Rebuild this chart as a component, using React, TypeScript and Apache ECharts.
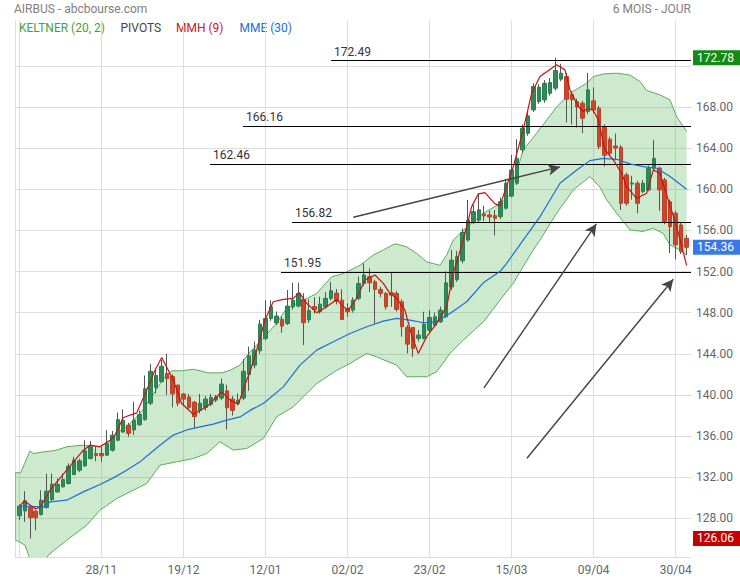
import React, { useEffect, useRef } from 'react';
import * as echarts from 'echarts';

// ---- data ----
const tickIndex = [15, 30, 45, 60, 75, 90, 105, 120];
const tickLabels = ['28/11', '19/12', '12/01', '02/02', '23/02', '15/03', '09/04', '30/04'];
const yGridValues = [128, 132, 136, 140, 144, 148, 152, 156, 160, 164, 168, 172];
const yLabelValues = [128, 132, 136, 140, 144, 148, 152, 156, 160, 164, 168];

// [open, close, low, high], one per trading day
const candles = [
  [128.25, 129.19, 127.83, 129.38], [128.73, 129.71, 127.66, 130.65], [129.06, 128.08, 126.06, 129.19],
  [128.7, 128.08, 126.85, 128.86], [128.38, 129.77, 128.28, 130.74], [129.06, 130.65, 128.96, 132.36],
  [129.84, 131.33, 129.7, 132.36], [130.58, 131.3, 130.48, 131.88], [131.07, 131.78, 131.0, 132.36],
  [131.39, 133.08, 131.3, 133.34], [132.27, 133.66, 132.2, 133.99], [132.69, 133.6, 132.5, 133.8],
  [133.11, 134.57, 133.0, 135.6], [133.82, 134.96, 133.73, 135.54], [134.31, 134.12, 133.56, 134.96],
  [134.31, 134.08, 133.5, 134.96], [134.15, 135.28, 134.05, 136.58], [134.63, 136.09, 134.5, 136.5],
  [135.6, 137.6, 135.5, 138.3], [136.4, 137.55, 136.3, 138.6], [137.07, 136.26, 135.93, 137.3],
  [136.6, 137.55, 136.1, 139.3], [137.1, 138.1, 137.0, 138.5], [137.6, 140.6, 137.5, 141.9],
  [139.2, 142.3, 139.0, 143.0], [140.7, 141.9, 140.15, 142.4], [141.3, 142.8, 141.2, 143.4],
  [142.1, 141.6, 140.0, 144.0], [141.8, 140.1, 138.8, 142.0], [140.96, 139.2, 138.9, 141.0],
  [140.1, 139.6, 138.9, 140.2], [139.8, 138.8, 138.6, 140.1], [139.3, 137.9, 136.8, 139.4],
  [138.5, 139.2, 138.2, 140.1], [138.8, 139.6, 138.5, 139.9], [139.1, 139.76, 138.9, 140.1],
  [139.5, 139.8, 139.3, 140.0], [139.7, 141.05, 139.5, 141.6], [140.4, 138.75, 136.65, 141.0],
  [139.6, 138.5, 138.0, 139.9], [139.2, 139.5, 139.0, 140.15], [139.7, 142.3, 139.5, 143.5],
  [142.0, 143.8, 140.4, 144.7], [142.9, 144.36, 142.6, 145.2], [144.3, 146.9, 144.0, 147.3],
  [145.5, 147.44, 145.3, 149.2], [147.44, 148.57, 147.2, 149.2], [147.0, 147.67, 146.8, 148.1],
  [147.34, 146.7, 146.05, 147.6], [146.95, 148.64, 146.8, 150.2], [148.57, 149.22, 148.3, 150.9],
  [148.64, 149.87, 148.5, 150.91], [149.29, 147.02, 144.85, 149.9], [147.3, 148.2, 147.0, 149.3],
  [148.6, 148.3, 147.9, 149.5], [148.09, 148.83, 147.9, 149.55], [148.57, 149.39, 148.4, 150.0],
  [149.39, 150.13, 149.2, 151.0], [149.9, 149.1, 148.8, 150.3], [149.22, 147.34, 147.28, 150.26],
  [148.41, 148.09, 147.6, 148.9], [148.25, 149.22, 148.0, 149.5], [149.39, 150.84, 149.2, 151.5],
  [150.84, 151.66, 150.6, 152.79], [151.5, 150.9, 150.0, 152.3], [151.0, 150.26, 146.95, 151.2],
  [150.26, 149.87, 149.5, 150.5], [149.87, 148.57, 148.3, 150.0], [149.94, 149.71, 148.57, 151.88],
  [149.87, 148.31, 148.1, 150.1], [149.06, 146.63, 145.66, 149.3], [146.56, 144.94, 144.04, 146.8],
  [146.56, 144.52, 143.71, 146.6], [145.5, 145.82, 145.2, 146.3], [145.5, 146.89, 145.4, 148.09],
  [146.3, 147.54, 146.1, 148.25], [146.79, 147.6, 146.6, 148.0], [147.12, 148.25, 147.0, 148.6],
  [147.6, 150.9, 147.5, 152.0], [150.5, 153.1, 150.2, 154.1], [151.2, 153.44, 151.0, 154.0],
  [153.05, 155.8, 152.8, 156.2], [155.06, 157.0, 154.9, 158.96], [156.85, 157.82, 156.6, 158.5],
  [157.0, 158.0, 156.8, 159.6], [157.6, 157.4, 156.9, 158.4], [157.5, 157.3, 156.7, 157.9],
  [157.43, 157.17, 155.5, 157.98], [157.33, 158.79, 157.1, 159.2], [158.15, 160.58, 158.0, 161.0],
  [159.34, 161.87, 159.2, 163.33], [160.58, 163.0, 160.4, 164.86], [163.82, 165.93, 163.5, 166.3],
  [165.44, 167.13, 165.2, 167.5], [167.71, 169.98, 167.5, 170.3], [168.52, 169.92, 168.3, 170.2],
  [168.68, 170.3, 168.4, 170.6], [169.33, 170.37, 169.1, 170.8], [169.82, 171.54, 169.6, 172.78],
  [170.7, 171.28, 170.5, 172.2], [170.95, 168.75, 166.5, 171.3], [169.2, 168.7, 166.3, 169.5],
  [168.52, 168.0, 166.0, 168.8], [168.36, 166.9, 165.44, 168.6], [167.55, 169.66, 167.3, 171.3],
  [168.59, 167.71, 167.4, 169.9], [167.87, 164.14, 163.9, 168.1], [166.0, 163.3, 162.2, 166.3],
  [164.86, 163.5, 163.2, 165.1], [164.2, 164.0, 162.8, 165.4], [164.08, 158.63, 157.98, 164.3],
  [161.39, 158.63, 158.4, 161.6], [160.5, 160.6, 159.0, 161.3], [160.58, 158.63, 157.66, 160.8],
  [159.77, 160.58, 159.6, 160.9], [159.93, 162.04, 159.8, 162.3], [162.04, 163.0, 161.8, 164.8],
  [162.04, 159.93, 157.9, 162.2], [160.9, 156.85, 156.6, 161.1], [158.79, 156.36, 153.8, 159.0],
  [157.66, 154.6, 153.2, 157.9], [156.53, 153.93, 153.7, 156.8], [155.23, 154.36, 153.6, 155.55],
];

// indicator traces [day index, value]
const keltnerUpper = [
  [-0.79, 132.44], [0.25, 132.44], [1.95, 134.57], [2.56, 134.3], [4.38, 134.47], [6.52, 134.6],
  [8.66, 134.96], [11.09, 135.1], [12.92, 135.1], [14.75, 134.96], [16.58, 135.6], [18.04, 136.4],
  [19.63, 136.9], [22.06, 138.2], [24.2, 139.8], [26.32, 141.6], [27.86, 142.35], [29.69, 142.35],
  [31.81, 142.5], [33.03, 142.35], [34.55, 142.15], [37.0, 142.15], [38.52, 142.4], [40.34, 142.9],
  [42.17, 144.2], [44.0, 145.17], [46.74, 146.79], [48.88, 148.4], [51.92, 149.2], [54.37, 149.87],
  [57.11, 151.5], [59.23, 151.8], [62.28, 152.6], [64.71, 153.6], [66.54, 154.1], [68.68, 154.7],
  [70.82, 154.4], [72.65, 153.76], [74.47, 152.95], [76.9, 152.6], [78.13, 153.6], [79.34, 155.06],
  [81.79, 156.3], [84.82, 157.66], [87.87, 158.6], [89.7, 159.5], [92.13, 163.82], [94.58, 165.44],
  [98.24, 168.0], [100.67, 169.33], [103.72, 170.3], [104.93, 170.95], [106.76, 171.2], [109.21, 171.28],
  [111.64, 171.1], [113.47, 170.47], [114.69, 169.6], [117.13, 169.17], [118.96, 168.68], [120.18, 167.06],
  [122.0, 165.6],
];
const keltnerLower = [
  [-0.79, 125.94], [1.04, 125.4], [1.77, 124.3], [2.87, 123.8], [4.69, 124.0], [5.61, 124.58],
  [8.66, 125.88], [12.32, 127.34], [14.75, 128.8], [17.8, 129.93], [20.84, 130.74], [23.29, 131.39],
  [25.72, 133.18], [28.77, 133.5], [31.81, 133.82], [34.26, 134.31], [36.69, 135.45], [39.12, 134.64],
  [41.57, 134.8], [44.6, 135.77], [47.05, 137.87], [50.09, 138.85], [54.37, 141.1], [58.02, 142.4],
  [60.46, 143.06], [63.51, 144.04], [65.33, 143.7], [68.99, 142.9], [70.82, 141.77], [74.47, 141.77],
  [76.3, 142.25], [78.73, 144.04], [81.17, 145.33], [84.82, 147.1], [86.05, 147.93], [87.87, 149.22],
  [90.3, 150.85], [92.13, 152.5], [93.96, 154.09], [95.19, 155.06], [98.24, 157.66], [101.28, 159.93],
  [104.33, 161.23], [106.16, 160.2], [107.39, 158.96], [109.21, 157.66], [111.64, 156.04], [114.07, 155.9],
  [115.9, 156.2], [117.73, 155.7], [118.96, 154.58], [120.79, 154.1], [122.0, 153.6],
];
const mme30 = [
  [0, 129.19], [4.38, 129.12], [5.61, 129.6], [8.66, 129.77], [11.7, 130.58], [14.75, 131.3],
  [17.18, 131.94], [19.63, 132.69], [22.06, 133.5], [23.89, 134.31], [25.72, 135.12], [28.15, 136.1],
  [30.6, 136.6], [33.03, 136.9], [35.46, 137.16], [37.91, 137.55], [40.34, 137.87], [42.17, 138.5],
  [44.6, 139.17], [48.26, 140.79], [51.31, 142.9], [54.37, 144.36], [57.4, 145.17], [60.46, 145.98],
  [63.51, 146.63], [66.54, 147.18], [68.99, 147.44], [71.42, 147.28], [73.86, 147.02], [76.3, 147.12],
  [78.73, 147.93], [81.79, 149.06], [84.82, 150.9], [87.87, 152.0], [89.1, 152.8], [92.13, 155.06],
  [95.19, 157.33], [98.85, 160.58], [101.9, 161.87], [104.33, 162.78], [106.76, 163.0], [109.21, 162.91],
  [111.64, 162.46], [114.07, 162.2], [116.52, 162.04], [118.96, 161.23], [122.0, 160.0],
];
const mmh9 = [
  [0.12, 129.19], [0.86, 129.71], [2.87, 128.96], [3.78, 129.06], [5.61, 130.74], [8.66, 132.69],
  [11.7, 134.63], [12.92, 135.12], [14.75, 134.96], [16.58, 135.6], [17.49, 136.1], [19.01, 137.81],
  [21.46, 138.26], [23.29, 140.47], [24.8, 142.41], [26.03, 143.65], [27.24, 142.41], [28.15, 141.44],
  [29.69, 139.17], [31.81, 138.13], [34.26, 138.85], [37.0, 140.31], [38.52, 139.5], [40.03, 139.1],
  [41.57, 141.44], [42.17, 142.25], [43.4, 144.36], [44.91, 147.28], [46.43, 149.06], [48.26, 149.29],
  [50.09, 149.39], [51.19, 149.94], [52.54, 148.9], [54.37, 148.0], [56.19, 148.57], [58.02, 149.29],
  [59.23, 148.57], [60.14, 148.25], [61.68, 149.39], [63.2, 151.17], [65.02, 151.66], [66.54, 150.84],
  [67.76, 149.87], [68.99, 149.39], [70.5, 148.25], [71.73, 145.82], [72.94, 144.04], [74.47, 145.66],
  [76.3, 146.95], [78.13, 148.57], [79.34, 151.82], [81.17, 155.06], [82.7, 158.31], [83.91, 159.54],
  [85.13, 159.67], [86.96, 158.57], [87.87, 158.4], [90.3, 162.2], [92.13, 165.77], [93.67, 169.33],
  [95.19, 170.95], [98.24, 172.09], [99.76, 171.6], [100.67, 169.66], [102.19, 168.04], [103.1, 167.55],
  [104.02, 167.87], [104.93, 167.65], [105.85, 166.74], [107.07, 163.82], [108.59, 162.85], [110.12, 161.55],
  [111.03, 160.25], [112.86, 159.12], [114.69, 159.6], [115.9, 161.88], [117.13, 161.55], [118.64, 158.96],
  [120.18, 156.36], [122.0, 152.6],
];

const pivotValues = [172.49, 166.16, 162.46, 156.82, 151.95];
const pivotStart = [57, 40.9, 34.86, 49.85, 47.84];

const arrowFrom = [[61.06, 157.27], [84.95, 140.68], [92.81, 133.85]];
const arrowTo = [[98.85, 162.17], [105.5, 156.63], [119.56, 151.25]];

const periodHigh = 172.78;
const periodLow = 126.06;
const lastClose = 154.36;

const X_MIN = -0.79;
const X_MAX = 122.8;
const Y_MIN = 124.25;
const Y_MAX = 176.4;

export default function App() {
  const ref = useRef<HTMLDivElement>(null);

  useEffect(() => {
    if (!ref.current) return;
    const chart = echarts.init(ref.current, null, { renderer: 'svg' });
    const font = 'Roboto, "Noto Sans", sans-serif';
    const gridColor = '#dddddd';

    const wickData = candles.map((c, i) => [i, c[0], c[1], c[2], c[3]]);
    const bodyData = candles.map((c, i) => [i, c[0], c[1], Math.min(c[0], c[1]), Math.max(c[0], c[1])]);

    const pivotLines = pivotValues.map((v, k) => [
      {
        coord: [pivotStart[k], v],
        label: {
          show: true,
          position: 'insideStartTop',
          formatter: v.toFixed(2),
          color: '#333',
          fontSize: 12,
          fontFamily: font,
          distance: 3,
        },
      },
      { coord: [X_MAX, v] },
    ]);

    const arrowLines = arrowFrom.map((p, k) => [
      {
        coord: p,
        symbol: 'none',
        lineStyle: { color: '#444', width: 1.4, type: 'solid' },
        label: { show: false },
      },
      { coord: arrowTo[k], symbol: 'arrow', symbolSize: [9, 12] },
    ]);

    const valueBox = (v: number, bg: string) => ({
      yAxis: v,
      lineStyle: { color: 'rgba(0,0,0,0)', width: 0 },
      label: {
        show: true,
        position: 'end',
        distance: 2,
        opacity: 1,
        formatter: v.toFixed(2),
        color: '#fff',
        backgroundColor: bg,
        padding: [2, 8, 1, 4],
        fontSize: 12,
        fontFamily: font,
      },
    });

    const option: any = {
      animation: false,
      grid: { left: 15, right: 49, top: 20.5, bottom: 23, containLabel: false },
      graphic: [
        { type: 'text', left: 14, top: 3, style: { text: 'AIRBUS - abcbourse.com', fill: '#808080', font: `12px ${font}` } },
        { type: 'text', right: 49, top: 3, style: { text: '6 MOIS - JOUR', fill: '#808080', font: `12px ${font}` } },
        { type: 'text', left: 19, top: 22, style: { text: 'KELTNER (20, 2)', fill: '#3da33d', font: `12px ${font}` } },
        { type: 'text', left: 120.5, top: 22, style: { text: 'PIVOTS', fill: '#444', font: `12px ${font}` } },
        { type: 'text', left: 176, top: 22, style: { text: 'MMH (9)', fill: '#c62020', font: `12px ${font}` } },
        { type: 'text', left: 239.5, top: 22, style: { text: 'MME (30)', fill: '#1e6fd0', font: `12px ${font}` } },
      ],
      xAxis: {
        type: 'value',
        min: X_MIN,
        max: X_MAX,
        axisLine: { show: true, lineStyle: { color: gridColor } },
        axisTick: { show: false, customValues: tickIndex },
        splitLine: { show: true, lineStyle: { color: gridColor, width: 1 } },
        axisLabel: {
          customValues: tickIndex,
          margin: 7,
          color: '#666',
          fontSize: 12,
          fontFamily: font,
          formatter: (v: number) => {
            const k = tickIndex.indexOf(Math.round(v));
            return k >= 0 ? tickLabels[k] : '';
          },
        },
      },
      yAxis: [
        {
          type: 'value',
          position: 'right',
          min: Y_MIN,
          max: Y_MAX,
          axisLine: { show: true, lineStyle: { color: gridColor } },
          axisTick: { show: false, customValues: yGridValues },
          splitLine: { show: true, lineStyle: { color: gridColor, width: 1 } },
          axisLabel: {
            customValues: yLabelValues,
            margin: 5,
            padding: [0, 0, 4, 0],
            color: '#666',
            fontSize: 12,
            fontFamily: font,
            formatter: (v: number) => v.toFixed(2),
          },
        },
        {
          type: 'value',
          position: 'left',
          min: Y_MIN,
          max: Y_MAX,
          axisLine: { show: true, lineStyle: { color: gridColor } },
          axisTick: { show: false },
          splitLine: { show: false },
          axisLabel: { show: false },
        },
      ],
      series: [
        {
          type: 'custom',
          name: 'KELTNER (20, 2)',
          clip: true,
          z: 1,
          silent: true,
          data: [[0, 150]],
          encode: { x: 0, y: 1 },
          renderItem: (params: any, api: any) => {
            if (params.dataIndex !== 0) return null;
            const up = keltnerUpper.map((p) => api.coord(p));
            const lo = keltnerLower.map((p) => api.coord(p));
            const edge = up.slice().reverse().concat(lo);
            return {
              type: 'group',
              children: [
                {
                  type: 'polygon',
                  shape: { points: up.concat(lo.slice().reverse()) },
                  style: { fill: 'rgba(76,175,80,0.28)', stroke: null },
                },
                {
                  type: 'polyline',
                  shape: { points: edge },
                  style: { stroke: '#5aad5a', lineWidth: 1, fill: null },
                },
              ],
            };
          },
        },
        {
          type: 'candlestick',
          name: 'wick',
          z: 3,
          barWidth: 1,
          silent: true,
          encode: { x: 0, y: [1, 2, 3, 4] },
          data: wickData,
          itemStyle: { color: '#555', color0: '#555', borderColor: '#555', borderColor0: '#555', borderWidth: 1 },
        },
        {
          type: 'candlestick',
          name: 'body',
          z: 4,
          barWidth: 4,
          silent: true,
          encode: { x: 0, y: [1, 2, 3, 4] },
          data: bodyData,
          itemStyle: {
            color: '#2e8b57',
            color0: '#c9482b',
            borderColor: '#2a7f50',
            borderColor0: '#bf4228',
            borderColorDoji: '#bf4228',
            borderWidth: 1,
          },
        },
        {
          type: 'line',
          name: 'MME (30)',
          z: 5,
          clip: false,
          showSymbol: false,
          silent: true,
          data: mme30,
          lineStyle: { color: '#1e6fd0', width: 1.2 },
          markLine: {
            silent: true,
            symbol: 'none',
            animation: false,
            data: [
              valueBox(periodHigh, '#138a13'),
              valueBox(lastClose, '#3b78e7'),
              valueBox(periodLow, '#c40000'),
            ],
          },
        },
        {
          type: 'line',
          name: 'MMH (9)',
          z: 6,
          showSymbol: false,
          silent: true,
          data: mmh9,
          lineStyle: { color: '#cc1111', width: 1.2 },
          markLine: {
            silent: true,
            symbol: 'none',
            precision: 2,
            animation: false,
            lineStyle: { color: '#000', width: 1, type: 'solid' },
            data: [...pivotLines, ...arrowLines],
          },
        },
      ],
    };

    chart.setOption(option);
    return () => chart.dispose();
  }, []);

  return <div ref={ref} style={{ position: 'absolute', left: 0, top: 0, width: 740, height: 580 }} />;
}
